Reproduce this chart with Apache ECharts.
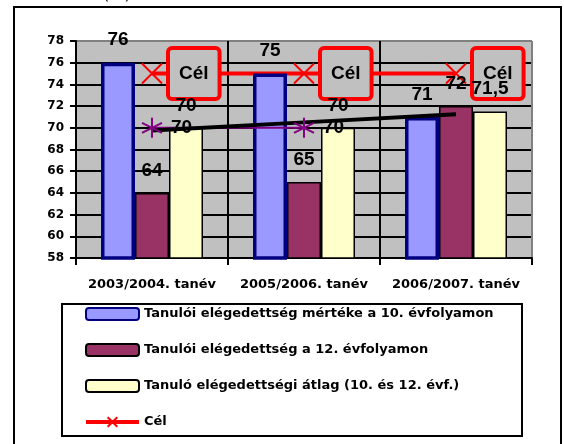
<!DOCTYPE html>
<html>
<head>
<meta charset="utf-8">
<script src="https://cdn.jsdelivr.net/npm/echarts@6/dist/echarts.min.js"></script>
<style>
html,body{margin:0;padding:0;background:#fff;}
#chart{width:564px;height:444px;}
</style>
</head>
<body>
<div id="chart"></div>
<script>
// adatok
var categories = ['2003/2004. tanév', '2005/2006. tanév', '2006/2007. tanév'];
var names = [
    'Tanulói elégedettség mértéke a 10. évfolyamon',
    'Tanulói elégedettség a 12. évfolyamon',
    'Tanuló elégedettségi átlag (10. és 12. évf.)',
    'Cél'
];
var grade10 = [76, 75, 71];
var grade12 = [64, 65, 72];
var average = [70, 70, 71.5];
var target = [75, 75, 75];
var targetLabel = 'Cél';
var starValues = [70, 70, null];
var trendValues = [69.75, 70.5, 71.25];
var yMin = 58, yMax = 78, yStep = 2;

var labelFont = 'Liberation Sans';
var axisFont = 'DejaVu Sans';

function fmt(p) {
    return String(p.value).replace('.', ',');
}

var barLabel = {
    show: true,
    position: 'top',
    distance: 13,
    color: '#000',
    fontFamily: labelFont,
    fontWeight: 'bold',
    fontSize: 19,
    formatter: fmt
};

var myChart = echarts.init(document.getElementById('chart'));
var option = {
    backgroundColor: '#fff',
    animation: false,
    grid: {
        left: 76,
        right: 32,
        top: 41,
        bottom: 186,
        show: true,
        backgroundColor: '#C0C0C0',
        borderWidth: 0
    },
    legend: {
        data: names,
        orient: 'vertical',
        left: 84,
        top: 306,
        padding: 0,
        itemWidth: 53,
        itemHeight: 12,
        itemGap: 20,
        lineStyle: {width: 4},
        textStyle: {
            color: '#000',
            fontFamily: axisFont,
            fontWeight: 'bold',
            fontSize: 13,
            lineHeight: 16
        }
    },
    xAxis: {
        type: 'category',
        data: categories,
        axisLine: {lineStyle: {color: '#000', width: 2}},
        axisTick: {show: true, length: 7, lineStyle: {color: '#000', width: 2}},
        axisLabel: {
            interval: 0,
            margin: 20,
            color: '#000',
            fontFamily: axisFont,
            fontWeight: 'bold',
            fontSize: 13
        },
        splitLine: {
            show: true,
            interval: 0,
            lineStyle: {color: ['#000', '#000', '#000', '#808080'], width: 2}
        }
    },
    yAxis: {
        type: 'value',
        min: yMin,
        max: yMax,
        interval: yStep,
        axisLine: {show: true, lineStyle: {color: '#000', width: 2}},
        axisTick: {show: true, length: 6, lineStyle: {color: '#000', width: 2}},
        axisLabel: {
            margin: 12,
            color: '#000',
            fontFamily: axisFont,
            fontWeight: 'bold',
            fontSize: 12
        },
        splitLine: {
            show: true,
            lineStyle: {
                color: ['#000', '#000', '#000', '#000', '#000', '#000', '#000', '#000', '#000', '#000', '#808080'],
                width: 2
            }
        }
    },
    series: [
        {
            name: names[0],
            type: 'bar',
            z: 3,
            data: grade10,
            barWidth: 34,
            barGap: '0%',
            itemStyle: {color: '#9999FF', borderColor: '#000080', borderWidth: 3.5},
            label: barLabel
        },
        {
            name: names[1],
            type: 'bar',
            z: 3,
            data: grade12,
            barWidth: 34,
            barGap: '0%',
            itemStyle: {color: '#993366', borderColor: '#000', borderWidth: 1.5},
            label: barLabel
        },
        {
            name: names[2],
            type: 'bar',
            z: 3,
            data: average,
            barWidth: 34,
            barGap: '0%',
            itemStyle: {color: '#FFFFCC', borderColor: '#000', borderWidth: 1.5},
            label: barLabel
        },
        {
            name: names[3],
            type: 'line',
            z: 2,
            data: target,
            symbol: 'path://M0,0L20,20M0,20L20,0',
            symbolSize: 20,
            lineStyle: {color: '#FF0000', width: 4},
            itemStyle: {color: '#FF0000', borderColor: '#FF0000', borderWidth: 2},
            label: {
                show: true,
                position: 'right',
                distance: 7,
                formatter: targetLabel,
                color: '#000',
                fontFamily: labelFont,
                fontWeight: 'bold',
                fontSize: 19,
                lineHeight: 21,
                padding: [13, 9, 13, 9],
                backgroundColor: '#C0C0C0',
                borderColor: '#FF0000',
                borderWidth: 4,
                borderRadius: 2
            }
        },
        {
            name: 'csillag',
            type: 'line',
            z: 4,
            data: starValues,
            symbol: 'path://M10,0L10,20M1,5L19,15M1,15L19,5',
            symbolSize: 20,
            lineStyle: {color: '#800080', width: 2},
            itemStyle: {color: '#800080', borderColor: '#800080', borderWidth: 2},
            label: {
                show: true,
                position: 'right',
                distance: 8,
                color: '#000',
                fontFamily: labelFont,
                fontWeight: 'bold',
                fontSize: 19,
                formatter: fmt
            }
        },
        {
            name: 'trend',
            type: 'line',
            z: 4,
            data: trendValues,
            symbol: 'none',
            lineStyle: {color: '#000', width: 4}
        }
    ],
    graphic: [
        {
            type: 'rect',
            shape: {x: 14, y: 7, width: 547, height: 460},
            style: {fill: 'none', stroke: '#000', lineWidth: 2},
            silent: true
        },
        {
            type: 'rect',
            shape: {x: 62, y: 304, width: 460, height: 132},
            style: {fill: 'none', stroke: '#000', lineWidth: 2},
            silent: true
        },
        {
            type: 'text',
            left: 103,
            top: -13,
            style: {text: '(%)', fill: '#000', font: '16px "DejaVu Sans"'},
            silent: true
        }
    ]
};
myChart.setOption(option);
</script>
</body>
</html>
